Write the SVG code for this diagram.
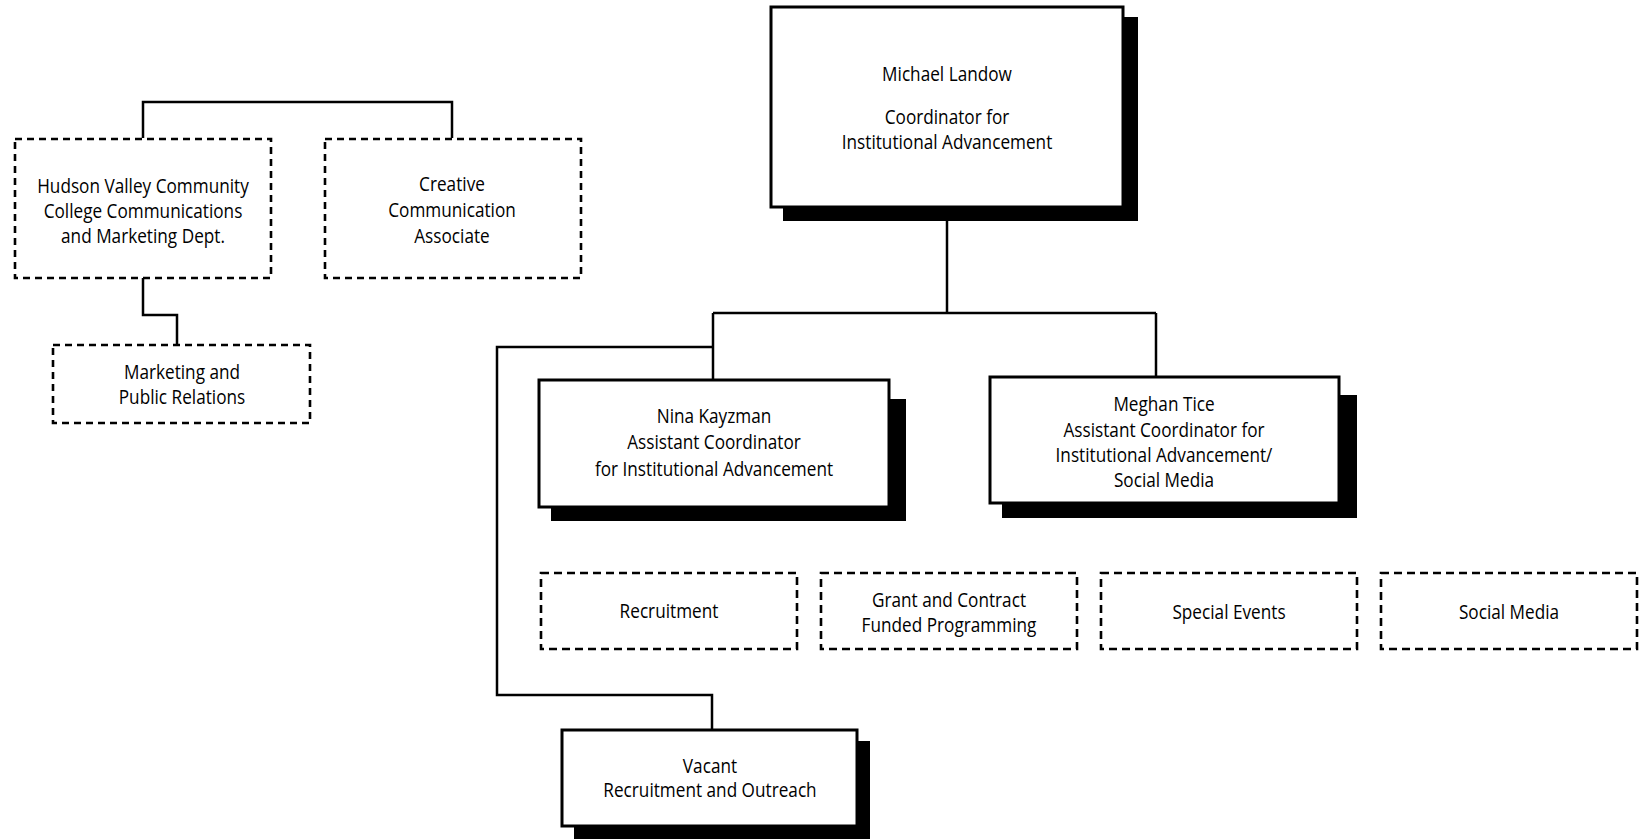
<svg xmlns="http://www.w3.org/2000/svg" width="1640" height="839" viewBox="0 0 1640 839">
<style>
.bg{fill:#fff}
.solid{fill:#fff;stroke:#000;stroke-width:3}
.shadow{fill:#000}
.dash{fill:#fff;stroke:#000;stroke-width:2.6;stroke-dasharray:7 5}
.dash2{fill:#fff;stroke:#000;stroke-width:2.6;stroke-dasharray:8 5}
.conn{fill:none;stroke:#000;stroke-width:2.5}
text{font-family:"Open Sans","Noto Sans","Liberation Sans",sans-serif;font-size:20px;fill:#000;text-anchor:middle}
</style>
<rect class="bg" x="0" y="0" width="1640" height="839"/>
<g id="connectors">
<polyline class="conn" points="143,138 143,102 452,102 452,138"/>
<polyline class="conn" points="143,278 143,315 177,315 177,345"/>
<line class="conn" x1="947" y1="207" x2="947" y2="313"/>
<line class="conn" x1="713" y1="313" x2="1156" y2="313"/>
<line class="conn" x1="713" y1="313" x2="713" y2="380"/>
<line class="conn" x1="1156" y1="313" x2="1156" y2="377"/>
<polyline class="conn" points="713,347 497,347 497,695 712,695 712,730"/>
</g>
<g id="hvcc">
<rect class="dash" x="15" y="139" width="256" height="139"/>
<text transform="translate(143,193) scale(0.86,1)">Hudson Valley Community</text>
<text transform="translate(143,218) scale(0.86,1)">College Communications</text>
<text transform="translate(143,243) scale(0.86,1)">and Marketing Dept.</text>
</g>
<g id="creative">
<rect class="dash" x="325" y="139" width="256" height="139"/>
<text transform="translate(452,191) scale(0.86,1)">Creative</text>
<text transform="translate(452,217) scale(0.86,1)">Communication</text>
<text transform="translate(452,243) scale(0.86,1)">Associate</text>
</g>
<g id="marketing">
<rect class="dash" x="53" y="345" width="257" height="78"/>
<text transform="translate(182,379) scale(0.86,1)">Marketing and</text>
<text transform="translate(182,404) scale(0.86,1)">Public Relations</text>
</g>
<g id="landow">
<rect class="shadow" x="783" y="17" width="355" height="204"/>
<rect class="solid" x="771" y="7" width="352" height="200"/>
<text transform="translate(947,81) scale(0.86,1)">Michael Landow</text>
<text transform="translate(947,124) scale(0.86,1)">Coordinator for</text>
<text transform="translate(947,149) scale(0.86,1)">Institutional Advancement</text>
</g>
<g id="kayzman">
<rect class="shadow" x="551" y="399" width="355" height="122"/>
<rect class="solid" x="539" y="380" width="350" height="127"/>
<text transform="translate(714,423) scale(0.86,1)">Nina Kayzman</text>
<text transform="translate(714,449) scale(0.86,1)">Assistant Coordinator</text>
<text transform="translate(714,476) scale(0.86,1)">for Institutional Advancement</text>
</g>
<g id="tice">
<rect class="shadow" x="1002" y="395" width="355" height="123"/>
<rect class="solid" x="990" y="377" width="349" height="126"/>
<text transform="translate(1164,411) scale(0.86,1)">Meghan Tice</text>
<text transform="translate(1164,437) scale(0.86,1)">Assistant Coordinator for</text>
<text transform="translate(1164,462) scale(0.86,1)">Institutional Advancement/</text>
<text transform="translate(1164,487) scale(0.86,1)">Social Media</text>
</g>
<g id="recruitment">
<rect class="dash2" x="541" y="573" width="256" height="76"/>
<text transform="translate(669,618) scale(0.86,1)">Recruitment</text>
</g>
<g id="grant">
<rect class="dash2" x="821" y="573" width="256" height="76"/>
<text transform="translate(949,607) scale(0.86,1)">Grant and Contract</text>
<text transform="translate(949,632) scale(0.86,1)">Funded Programming</text>
</g>
<g id="special-events">
<rect class="dash2" x="1101" y="573" width="256" height="76"/>
<text transform="translate(1229,619) scale(0.86,1)">Special Events</text>
</g>
<g id="social-media">
<rect class="dash2" x="1381" y="573" width="256" height="76"/>
<text transform="translate(1509,619) scale(0.86,1)">Social Media</text>
</g>
<g id="vacant">
<rect class="shadow" x="574" y="741" width="296" height="98"/>
<rect class="solid" x="562" y="730" width="295" height="96"/>
<text transform="translate(710,773) scale(0.86,1)">Vacant</text>
<text transform="translate(710,797) scale(0.86,1)">Recruitment and Outreach</text>
</g>
</svg>
